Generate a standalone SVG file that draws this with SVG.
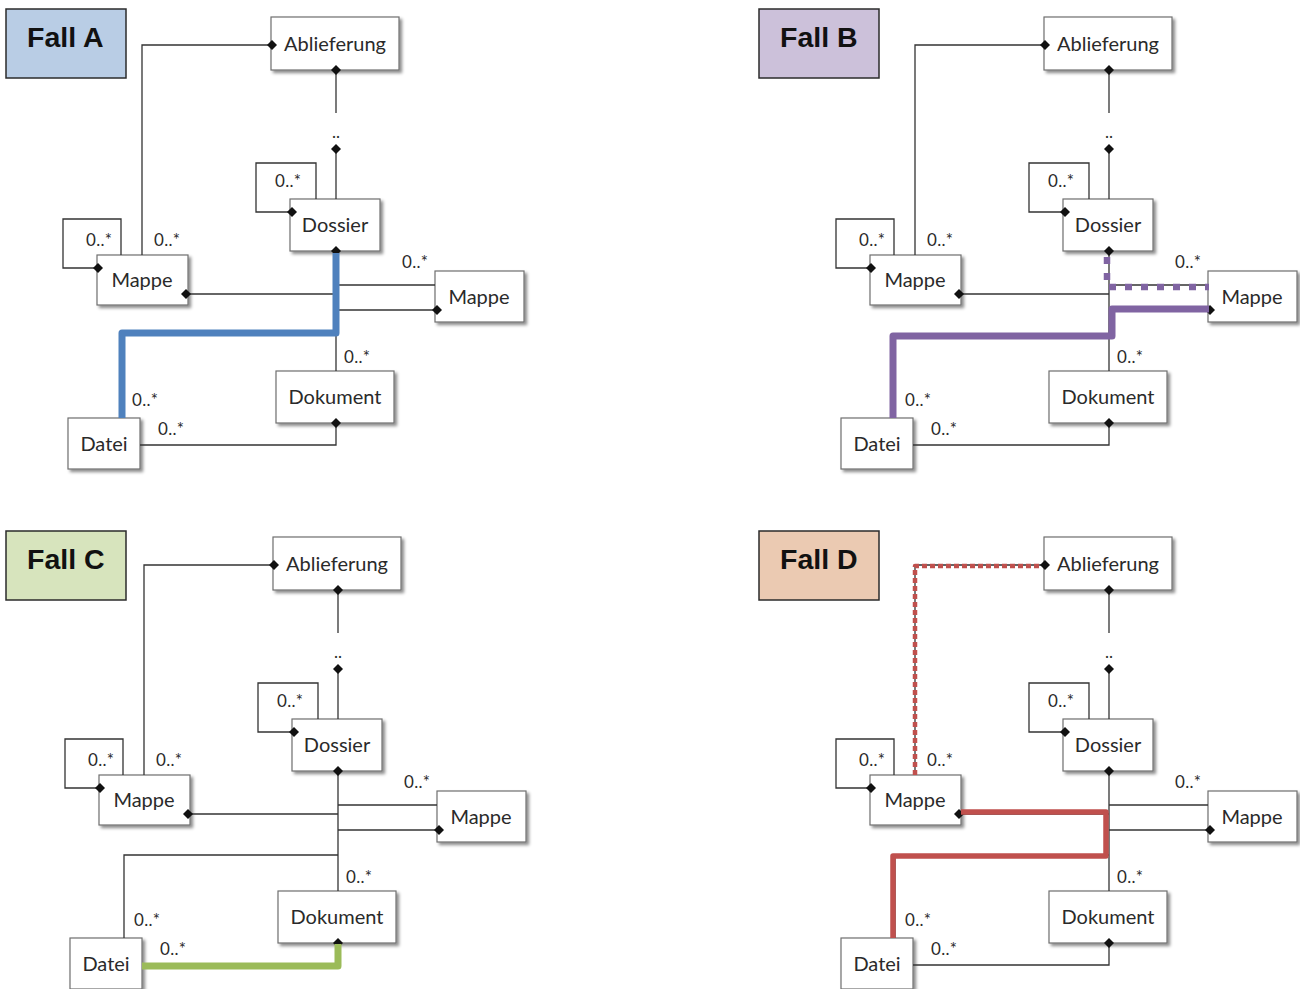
<svg xmlns="http://www.w3.org/2000/svg" xmlns:xlink="http://www.w3.org/1999/xlink" width="1300" height="989" viewBox="0 0 1300 989">
  <style>
    .box { fill: #ffffff; stroke: #6f6f6f; stroke-width: 1.2; filter: url(#shadow); }
    .lbl { font-family: Lato, "Open Sans", "Liberation Sans", sans-serif; font-size: 20px; fill: #2a2a2a; text-anchor: middle; }
    .mul { font-family: Lato, "Open Sans", "Liberation Sans", sans-serif; font-size: 17px; fill: #2a2a2a; letter-spacing: 0.3px; }
    .dots { font-family: Lato, "Liberation Sans", sans-serif; font-size: 17px; fill: #2a2a2a; text-anchor: middle; }
    .ln { fill: none; stroke: #333333; stroke-width: 1.3; }
    .fall rect { stroke: #2b2b2b; stroke-width: 1.5; }
    .fall text { font-family: "Liberation Sans", Arial, sans-serif; font-weight: bold; font-size: 28.5px; fill: #111111; }
    .hl { fill: none; stroke-linejoin: round; stroke-linecap: butt; }
  </style>
  <defs>
    <filter id="shadow" x="-10%" y="-10%" width="130%" height="140%">
      <feDropShadow dx="2.5" dy="2.5" stdDeviation="1.8" flood-color="#000000" flood-opacity="0.45"/>
    </filter>
    <path id="dia" d="M-5,0 L0,-5 L5,0 L0,5 Z" fill="#111111"/>
  </defs>
  <rect width="1300" height="989" fill="#ffffff"/>

  <!-- case labels -->
  <g id="fall-a" class="fall"><rect x="6" y="9" width="120" height="69" fill="#b9cde5"/><text x="27" y="47">Fall A</text></g>
  <g id="fall-b" class="fall"><rect x="759" y="9" width="120" height="69" fill="#ccc1da"/><text x="780" y="47">Fall B</text></g>
  <g id="fall-c" class="fall"><rect x="6" y="531" width="120" height="69" fill="#d7e4bd"/><text x="27" y="569">Fall C</text></g>
  <g id="fall-d" class="fall"><rect x="759" y="531" width="120" height="69" fill="#ebcab2"/><text x="780" y="569">Fall D</text></g>

  <!-- ===== Fall A ===== -->
  <g id="panel-a">
    <g id="a-nodes">
      <g id="a-ablieferung"><rect class="box" x="271" y="17" width="128" height="53"/><text class="lbl" x="335" y="51">Ablieferung</text></g>
      <g id="a-dossier"><rect class="box" x="290" y="199" width="90" height="52"/><text class="lbl" x="335" y="232">Dossier</text></g>
      <g id="a-mappe1"><rect class="box" x="97" y="255" width="91" height="50"/><text class="lbl" x="142" y="287">Mappe</text></g>
      <g id="a-mappe2"><rect class="box" x="435" y="271" width="89" height="51"/><text class="lbl" x="479" y="304">Mappe</text></g>
      <g id="a-dokument"><rect class="box" x="276" y="371" width="118" height="52"/><text class="lbl" x="335" y="404">Dokument</text></g>
      <g id="a-datei"><rect class="box" x="68" y="418" width="72" height="51"/><text class="lbl" x="104" y="451">Datei</text></g>
    </g>
    <g id="a-connectors">
      <path class="ln" d="M142,255 V45 H268"/><use xlink:href="#dia" x="272" y="45"/>
      <path class="ln" d="M336,70 V113"/><use xlink:href="#dia" x="336" y="70"/>
      <text class="dots" x="336" y="138">..</text>
      <path class="ln" d="M336,149 V199"/><use xlink:href="#dia" x="336" y="149"/>
      <path class="ln" d="M316,199 V163 H256 V212 H290"/><use xlink:href="#dia" x="292" y="212"/>
      <path class="ln" d="M121,255 V219 H63 V268 H97"/><use xlink:href="#dia" x="98" y="268"/>
      <path class="ln" d="M186,294 H336"/><use xlink:href="#dia" x="186" y="294"/>
      <path class="ln" d="M336,251 V371"/><use xlink:href="#dia" x="336" y="251"/>
      <path class="ln" d="M336,285 H435"/>
      <path class="ln" d="M336,310 H435"/><use xlink:href="#dia" x="437" y="310"/>
      <path class="ln" d="M122,418 V335 H336"/>
      <path class="ln" d="M140,445 H336 V423"/><use xlink:href="#dia" x="336" y="423"/>
      <text class="mul" x="275" y="187">0..*</text>
      <text class="mul" x="86" y="246">0..*</text>
      <text class="mul" x="154" y="246">0..*</text>
      <text class="mul" x="402" y="268">0..*</text>
      <text class="mul" x="344" y="363">0..*</text>
      <text class="mul" x="132" y="406">0..*</text>
      <text class="mul" x="158" y="435">0..*</text>
    </g>
    <g id="a-highlight">
      <path class="hl" stroke="#4f81bd" stroke-width="7" d="M336,253 V333 H122 V418"/>
    </g>
  </g>

  <!-- ===== Fall B ===== -->
  <g id="panel-b" transform="translate(773,0)">
    <g id="b-nodes">
      <g id="b-ablieferung"><rect class="box" x="271" y="17" width="128" height="53"/><text class="lbl" x="335" y="51">Ablieferung</text></g>
      <g id="b-dossier"><rect class="box" x="290" y="199" width="90" height="52"/><text class="lbl" x="335" y="232">Dossier</text></g>
      <g id="b-mappe1"><rect class="box" x="97" y="255" width="91" height="50"/><text class="lbl" x="142" y="287">Mappe</text></g>
      <g id="b-mappe2"><rect class="box" x="435" y="271" width="89" height="51"/><text class="lbl" x="479" y="304">Mappe</text></g>
      <g id="b-dokument"><rect class="box" x="276" y="371" width="118" height="52"/><text class="lbl" x="335" y="404">Dokument</text></g>
      <g id="b-datei"><rect class="box" x="68" y="418" width="72" height="51"/><text class="lbl" x="104" y="451">Datei</text></g>
    </g>
    <g id="b-connectors">
      <path class="ln" d="M142,255 V45 H268"/><use xlink:href="#dia" x="272" y="45"/>
      <path class="ln" d="M336,70 V113"/><use xlink:href="#dia" x="336" y="70"/>
      <text class="dots" x="336" y="138">..</text>
      <path class="ln" d="M336,149 V199"/><use xlink:href="#dia" x="336" y="149"/>
      <path class="ln" d="M316,199 V163 H256 V212 H290"/><use xlink:href="#dia" x="292" y="212"/>
      <path class="ln" d="M121,255 V219 H63 V268 H97"/><use xlink:href="#dia" x="98" y="268"/>
      <path class="ln" d="M186,294 H336"/><use xlink:href="#dia" x="186" y="294"/>
      <path class="ln" d="M336,251 V371"/><use xlink:href="#dia" x="336" y="251"/>
      <path class="ln" d="M336,285 H435"/>
      <path class="ln" d="M336,310 H435"/><use xlink:href="#dia" x="437" y="310"/>
      <path class="ln" d="M122,418 V335 H336"/>
      <path class="ln" d="M140,445 H336 V423"/><use xlink:href="#dia" x="336" y="423"/>
      <text class="mul" x="275" y="187">0..*</text>
      <text class="mul" x="86" y="246">0..*</text>
      <text class="mul" x="154" y="246">0..*</text>
      <text class="mul" x="402" y="268">0..*</text>
      <text class="mul" x="344" y="363">0..*</text>
      <text class="mul" x="132" y="406">0..*</text>
      <text class="mul" x="158" y="435">0..*</text>
    </g>
    <g id="b-highlight">
      <path class="hl" stroke="#8064a2" stroke-width="6.5" stroke-dasharray="7 9" d="M334,257 V287 H436"/>
      <path class="hl" stroke="#8064a2" stroke-width="7" d="M120,418 V336 H339 V309 H436"/>
    </g>
  </g>

  <!-- ===== Fall C ===== -->
  <g id="panel-c" transform="translate(2,520)">
    <g id="c-nodes">
      <g id="c-ablieferung"><rect class="box" x="271" y="17" width="128" height="53"/><text class="lbl" x="335" y="51">Ablieferung</text></g>
      <g id="c-dossier"><rect class="box" x="290" y="199" width="90" height="52"/><text class="lbl" x="335" y="232">Dossier</text></g>
      <g id="c-mappe1"><rect class="box" x="97" y="255" width="91" height="50"/><text class="lbl" x="142" y="287">Mappe</text></g>
      <g id="c-mappe2"><rect class="box" x="435" y="271" width="89" height="51"/><text class="lbl" x="479" y="304">Mappe</text></g>
      <g id="c-dokument"><rect class="box" x="276" y="371" width="118" height="52"/><text class="lbl" x="335" y="404">Dokument</text></g>
      <g id="c-datei"><rect class="box" x="68" y="418" width="72" height="51"/><text class="lbl" x="104" y="451">Datei</text></g>
    </g>
    <g id="c-connectors">
      <path class="ln" d="M142,255 V45 H268"/><use xlink:href="#dia" x="272" y="45"/>
      <path class="ln" d="M336,70 V113"/><use xlink:href="#dia" x="336" y="70"/>
      <text class="dots" x="336" y="138">..</text>
      <path class="ln" d="M336,149 V199"/><use xlink:href="#dia" x="336" y="149"/>
      <path class="ln" d="M316,199 V163 H256 V212 H290"/><use xlink:href="#dia" x="292" y="212"/>
      <path class="ln" d="M121,255 V219 H63 V268 H97"/><use xlink:href="#dia" x="98" y="268"/>
      <path class="ln" d="M186,294 H336"/><use xlink:href="#dia" x="186" y="294"/>
      <path class="ln" d="M336,251 V371"/><use xlink:href="#dia" x="336" y="251"/>
      <path class="ln" d="M336,285 H435"/>
      <path class="ln" d="M336,310 H435"/><use xlink:href="#dia" x="437" y="310"/>
      <path class="ln" d="M122,418 V335 H336"/>
      <path class="ln" d="M140,445 H336 V423"/><use xlink:href="#dia" x="336" y="423"/>
      <text class="mul" x="275" y="187">0..*</text>
      <text class="mul" x="86" y="246">0..*</text>
      <text class="mul" x="154" y="246">0..*</text>
      <text class="mul" x="402" y="268">0..*</text>
      <text class="mul" x="344" y="363">0..*</text>
      <text class="mul" x="132" y="406">0..*</text>
      <text class="mul" x="158" y="435">0..*</text>
    </g>
    <g id="c-highlight">
      <path class="hl" stroke="#9bbb59" stroke-width="7" d="M140,446 H336 V424"/>
    </g>
  </g>

  <!-- ===== Fall D ===== -->
  <g id="panel-d" transform="translate(773,520)">
    <g id="d-nodes">
      <g id="d-ablieferung"><rect class="box" x="271" y="17" width="128" height="53"/><text class="lbl" x="335" y="51">Ablieferung</text></g>
      <g id="d-dossier"><rect class="box" x="290" y="199" width="90" height="52"/><text class="lbl" x="335" y="232">Dossier</text></g>
      <g id="d-mappe1"><rect class="box" x="97" y="255" width="91" height="50"/><text class="lbl" x="142" y="287">Mappe</text></g>
      <g id="d-mappe2"><rect class="box" x="435" y="271" width="89" height="51"/><text class="lbl" x="479" y="304">Mappe</text></g>
      <g id="d-dokument"><rect class="box" x="276" y="371" width="118" height="52"/><text class="lbl" x="335" y="404">Dokument</text></g>
      <g id="d-datei"><rect class="box" x="68" y="418" width="72" height="51"/><text class="lbl" x="104" y="451">Datei</text></g>
    </g>
    <g id="d-connectors">
      <path class="ln" d="M142,255 V45 H268"/><use xlink:href="#dia" x="272" y="45"/>
      <path class="ln" d="M336,70 V113"/><use xlink:href="#dia" x="336" y="70"/>
      <text class="dots" x="336" y="138">..</text>
      <path class="ln" d="M336,149 V199"/><use xlink:href="#dia" x="336" y="149"/>
      <path class="ln" d="M316,199 V163 H256 V212 H290"/><use xlink:href="#dia" x="292" y="212"/>
      <path class="ln" d="M121,255 V219 H63 V268 H97"/><use xlink:href="#dia" x="98" y="268"/>
      <path class="ln" d="M186,294 H336"/><use xlink:href="#dia" x="186" y="294"/>
      <path class="ln" d="M336,251 V371"/><use xlink:href="#dia" x="336" y="251"/>
      <path class="ln" d="M336,285 H435"/>
      <path class="ln" d="M336,310 H435"/><use xlink:href="#dia" x="437" y="310"/>
      <path class="ln" d="M122,418 V335 H336"/>
      <path class="ln" d="M140,445 H336 V423"/><use xlink:href="#dia" x="336" y="423"/>
      <text class="mul" x="275" y="187">0..*</text>
      <text class="mul" x="86" y="246">0..*</text>
      <text class="mul" x="154" y="246">0..*</text>
      <text class="mul" x="402" y="268">0..*</text>
      <text class="mul" x="344" y="363">0..*</text>
      <text class="mul" x="132" y="406">0..*</text>
      <text class="mul" x="158" y="435">0..*</text>
    </g>
    <g id="d-highlight">
      <path class="hl" stroke="#c0504d" stroke-width="4.5" stroke-dasharray="5 3" d="M142,255 V46 H268"/>
      <path class="hl" stroke="#c0504d" stroke-width="5.5" d="M188,292 H333 V336 H120 V418"/>
    </g>
  </g>
</svg>
